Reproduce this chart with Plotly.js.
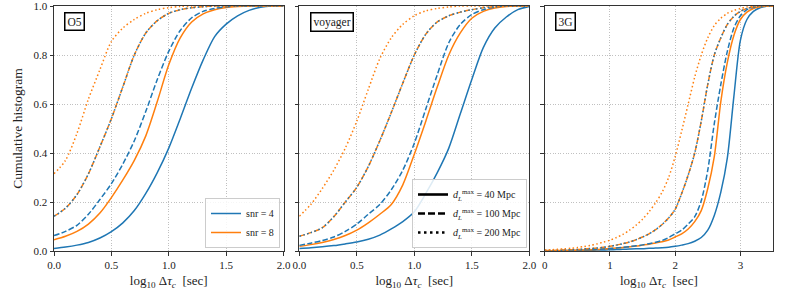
<!DOCTYPE html>
<html>
<head>
<meta charset="utf-8">
<script src="https://cdn.plot.ly/plotly-3.0.1.min.js"></script>
<style>html,body{margin:0;padding:0;background:#fff;}#chart{width:789px;height:296px;}</style>
</head>
<body>
<div id="chart"></div>
<script>
// x grids (log10 Δτ_c)
const x02 = [0,0.1,0.2,0.3,0.4,0.5,0.6,0.7,0.8,0.9,1.0,1.1,1.2,1.3,1.4,1.5,1.6,1.7,1.8,1.9,2.0];
const x35 = [0,0.1,0.2,0.3,0.4,0.5,0.6,0.7,0.8,0.9,1.0,1.1,1.2,1.3,1.4,1.5,1.6,1.7,1.8,1.9,2.0,2.1,2.2,2.3,2.4,2.5,2.6,2.7,2.8,2.9,3.0,3.1,3.2,3.3,3.4,3.5];

// O5 panel
const o5_snr4_40  = [0.01,0.016,0.024,0.035,0.053,0.079,0.115,0.165,0.235,0.32,0.42,0.54,0.665,0.78,0.875,0.926,0.96,0.982,0.995,1.0,1.0];
const o5_snr8_40  = [0.046,0.06,0.08,0.11,0.155,0.218,0.29,0.37,0.47,0.61,0.76,0.87,0.935,0.968,0.985,0.994,0.998,1.0,1.0,1.0,1.0];
const o5_snr4_100 = [0.063,0.08,0.105,0.15,0.21,0.275,0.355,0.45,0.57,0.70,0.815,0.90,0.952,0.978,0.99,0.997,1.0,1.0,1.0,1.0,1.0];
const o5_snr8_100 = [0.142,0.175,0.23,0.315,0.425,0.54,0.67,0.80,0.89,0.94,0.97,0.985,0.993,0.997,1.0,1.0,1.0,1.0,1.0,1.0,1.0];
const o5_snr4_200 = [0.142,0.175,0.23,0.315,0.425,0.54,0.67,0.80,0.89,0.94,0.97,0.985,0.993,0.997,1.0,1.0,1.0,1.0,1.0,1.0,1.0];
const o5_snr8_200 = [0.315,0.37,0.48,0.62,0.74,0.855,0.91,0.945,0.97,0.985,0.993,0.998,1.0,1.0,1.0,1.0,1.0,1.0,1.0,1.0,1.0];

// voyager panel
const vo_snr4_40  = [0.01,0.013,0.017,0.022,0.029,0.037,0.048,0.065,0.09,0.12,0.16,0.235,0.32,0.42,0.56,0.70,0.83,0.91,0.955,0.985,0.998];
const vo_snr8_40  = [0.019,0.026,0.035,0.047,0.063,0.085,0.115,0.15,0.19,0.27,0.395,0.53,0.67,0.80,0.89,0.95,0.978,0.992,0.998,1.0,1.0];
const vo_snr4_100 = [0.023,0.032,0.043,0.057,0.08,0.11,0.15,0.19,0.25,0.33,0.44,0.58,0.72,0.85,0.925,0.965,0.985,0.995,1.0,1.0,1.0];
const vo_snr8_100 = [0.06,0.075,0.095,0.14,0.20,0.26,0.345,0.45,0.565,0.685,0.80,0.885,0.935,0.96,0.975,0.985,0.993,0.997,1.0,1.0,1.0];
const vo_snr4_200 = [0.06,0.075,0.095,0.14,0.20,0.26,0.345,0.45,0.565,0.685,0.80,0.885,0.935,0.96,0.975,0.985,0.993,0.997,1.0,1.0,1.0];
const vo_snr8_200 = [0.142,0.19,0.255,0.33,0.42,0.53,0.66,0.785,0.87,0.925,0.96,0.98,0.99,0.996,1.0,1.0,1.0,1.0,1.0,1.0,1.0];

// 3G panel
const g3_snr4_40  = [0.001,0.001,0.001,0.002,0.002,0.002,0.003,0.003,0.004,0.004,0.005,0.006,0.007,0.008,0.009,0.009,0.011,0.012,0.013,0.015,0.019,0.024,0.03,0.04,0.055,0.085,0.145,0.24,0.38,0.63,0.86,0.945,0.978,0.993,0.999,1.0];
const g3_snr8_40  = [0.001,0.001,0.002,0.002,0.003,0.003,0.004,0.005,0.006,0.008,0.01,0.012,0.014,0.017,0.02,0.024,0.028,0.033,0.038,0.045,0.057,0.07,0.09,0.12,0.165,0.255,0.385,0.61,0.77,0.88,0.945,0.975,0.99,0.997,1.0,1.0];
const g3_snr4_100 = [0.001,0.001,0.002,0.002,0.003,0.004,0.005,0.006,0.007,0.008,0.01,0.012,0.015,0.018,0.021,0.025,0.03,0.036,0.043,0.055,0.07,0.085,0.11,0.14,0.205,0.33,0.52,0.68,0.815,0.91,0.96,0.985,0.995,1.0,1.0,1.0];
const g3_snr8_100 = [0.002,0.002,0.003,0.004,0.005,0.006,0.008,0.01,0.012,0.015,0.019,0.024,0.03,0.037,0.046,0.057,0.07,0.087,0.108,0.135,0.17,0.235,0.31,0.40,0.53,0.68,0.80,0.87,0.925,0.958,0.978,0.99,0.996,1.0,1.0,1.0];
const g3_snr4_200 = [0.002,0.002,0.003,0.004,0.005,0.006,0.008,0.01,0.012,0.015,0.019,0.024,0.03,0.037,0.046,0.057,0.07,0.087,0.108,0.135,0.17,0.235,0.31,0.40,0.53,0.68,0.80,0.87,0.925,0.958,0.978,0.99,0.996,1.0,1.0,1.0];
const g3_snr8_200 = [0.004,0.005,0.007,0.009,0.011,0.014,0.018,0.023,0.029,0.036,0.044,0.055,0.068,0.085,0.105,0.13,0.16,0.197,0.24,0.30,0.385,0.49,0.60,0.71,0.80,0.87,0.92,0.95,0.97,0.982,0.99,0.996,0.999,1.0,1.0,1.0];

const panelNames = ['O5', 'voyager', '3G'];
const snrLabels = ['snr = 4', 'snr = 8'];
const distLabels = ['<i>d</i><sub><i>L</i></sub><sup>max</sup> = 40 Mpc', '<i>d</i><sub><i>L</i></sub><sup>max</sup> = 100 Mpc', '<i>d</i><sub><i>L</i></sub><sup>max</sup> = 200 Mpc'];
const yTicks = [0, 0.2, 0.4, 0.6, 0.8, 1.0];
const yTickText = ['0.0', '0.2', '0.4', '0.6', '0.8', '1.0'];
const x2Ticks = [0, 0.5, 1, 1.5, 2];
const x2TickText = ['0.0', '0.5', '1.0', '1.5', '2.0'];
const x3Ticks = [0, 1, 2, 3];
const x3TickText = ['0', '1', '2', '3'];

const BLUE = '#1f77b4', ORANGE = '#ff7f0e';
const DASHES = ['solid', '5.5px,2.4px', '1.5px,2.5px'];
const FONT = 'Liberation Serif, DejaVu Serif, serif';

const panels = [
  {xs: x02, ax: '', curves: [[o5_snr4_40, o5_snr8_40], [o5_snr4_100, o5_snr8_100], [o5_snr4_200, o5_snr8_200]]},
  {xs: x02, ax: '2', curves: [[vo_snr4_40, vo_snr8_40], [vo_snr4_100, vo_snr8_100], [vo_snr4_200, vo_snr8_200]]},
  {xs: x35, ax: '3', curves: [[g3_snr4_40, g3_snr8_40], [g3_snr4_100, g3_snr8_100], [g3_snr4_200, g3_snr8_200]]}
];

const traces = [];
panels.forEach((p, pi) => {
  p.curves.forEach((pair, di) => {
    pair.forEach((ys, si) => {
      const isLegend = (pi === 0 && di === 0);
      traces.push({
        x: p.xs, y: ys, type: 'scatter', mode: 'lines',
        xaxis: 'x' + p.ax, yaxis: 'y' + p.ax,
        line: {color: si === 0 ? BLUE : ORANGE, width: 1.5, dash: DASHES[di], shape: 'spline', smoothing: 0.8},
        name: snrLabels[si],
        showlegend: isLegend,
        legend: 'legend',
        hoverinfo: 'skip'
      });
    });
  });
});
// line-style legend entries (legend only)
const legDash = ['solid', '7px,3px', '2.5px,3.5px'];
distLabels.forEach((lab, di) => {
  traces.push({
    x: [null], y: [null], type: 'scatter', mode: 'lines',
    xaxis: 'x2', yaxis: 'y2',
    line: {color: 'black', width: 2.6, dash: legDash[di]},
    name: lab, showlegend: true, legend: 'legend2'
  });
});

const W = 789, H = 296, ML = 54, MR = 16, MT = 6, MB = 45;
const PW = W - ML - MR;
const dom = [[0, 229.5 / PW], [245.3 / PW, 475.3 / PW], [490.7 / PW, 1]];

const axBase = {
  showline: true, linecolor: '#333', linewidth: 1, mirror: true,
  ticks: 'outside', ticklen: 3.5, tickwidth: 1, tickcolor: '#333',
  showgrid: true, gridcolor: '#b0b0b0', griddash: '1px,1.6px', gridwidth: 0.8,
  zeroline: false, ticklabeloverflow: 'allow',
  tickfont: {family: FONT, size: 11, color: '#222'}
};
const xTitle = {text: 'log<sub>10</sub> Δ<i>τ</i><sub><i>c</i></sub>  [sec]', font: {family: FONT, size: 13, color: '#222'}, standoff: 6};

const layout = {
  width: W, height: H,
  margin: {l: ML, r: MR, t: MT, b: MB},
  paper_bgcolor: '#fff', plot_bgcolor: '#fff',
  font: {family: FONT, color: '#222'},
  showlegend: true,
  xaxis: Object.assign({}, axBase, {domain: dom[0], range: [0, 2], tickvals: x2Ticks, ticktext: x2TickText, anchor: 'y', title: xTitle}),
  xaxis2: Object.assign({}, axBase, {domain: dom[1], range: [0, 2], tickvals: x2Ticks, ticktext: x2TickText, anchor: 'y2', title: xTitle}),
  xaxis3: Object.assign({}, axBase, {domain: dom[2], range: [0, 3.5], tickvals: x3Ticks, ticktext: x3TickText, anchor: 'y3', title: xTitle}),
  yaxis: Object.assign({}, axBase, {range: [0, 1], tickvals: yTicks, ticktext: yTickText, anchor: 'x',
    title: {text: 'Cumulative histogram', font: {family: FONT, size: 13.5, color: '#222'}, standoff: 7}}),
  yaxis2: Object.assign({}, axBase, {range: [0, 1], tickvals: yTicks, showticklabels: false, anchor: 'x2'}),
  yaxis3: Object.assign({}, axBase, {range: [0, 1], tickvals: yTicks, showticklabels: false, anchor: 'x3'}),
  legend: {
    x: (280 - ML) / PW, y: (251 - 248) / 245, xanchor: 'right', yanchor: 'bottom',
    bgcolor: 'rgba(255,255,255,0.85)', bordercolor: '#cccccc', borderwidth: 1,
    font: {family: FONT, size: 10, color: '#222'}, itemwidth: 30, tracegroupgap: 0
  },
  legend2: {
    x: (527 - ML) / PW, y: (251 - 248) / 245, xanchor: 'right', yanchor: 'bottom',
    bgcolor: 'rgba(255,255,255,0.85)', bordercolor: '#cccccc', borderwidth: 1,
    font: {family: FONT, size: 10, color: '#222'}, itemwidth: 30, tracegroupgap: 0
  },
  annotations: panelNames.map((nm, i) => ({
    text: nm, xref: 'x' + (i ? i + 1 : '') + ' domain', yref: 'y' + (i ? i + 1 : '') + ' domain',
    x: 0.045, y: 0.975, xanchor: 'left', yanchor: 'top', showarrow: false,
    font: {family: FONT, size: 11.5, color: '#222'},
    bgcolor: '#fff', bordercolor: '#000', borderwidth: 1.5, borderpad: 2
  }))
};

Plotly.newPlot('chart', traces, layout, {displayModeBar: false, staticPlot: true});
</script>
</body>
</html>
